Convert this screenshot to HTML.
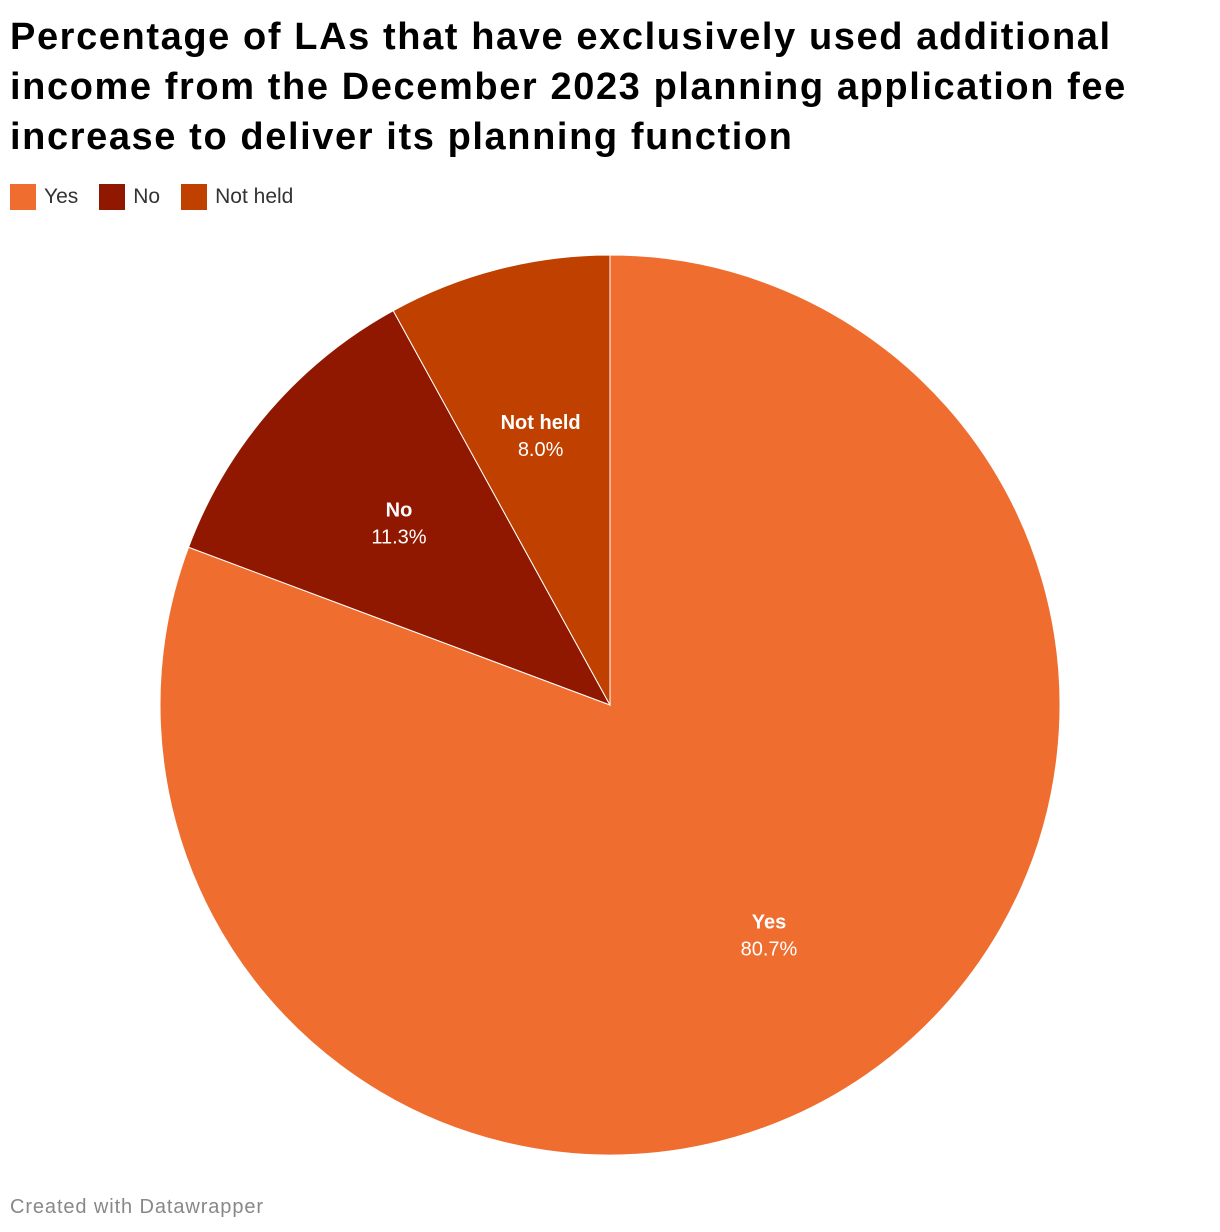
<!DOCTYPE html>
<html><head><meta charset="utf-8"><style>
body{margin:0;background:#fff;width:1220px;height:1232px;overflow:hidden;font-family:"Liberation Sans",sans-serif}
h1{position:absolute;left:10px;top:12px;margin:0;font-size:38px;line-height:50px;font-weight:bold;color:#000;letter-spacing:1.6px;width:1210px;white-space:nowrap}
.legend{position:absolute;left:10px;top:184px;display:flex;font-size:21px;color:#333}
.li{display:flex;align-items:center;margin-right:21px}
.sw{width:26px;height:26px;margin-right:8px}
.foot{position:absolute;left:10px;top:1196px;font-size:20px;color:#888;letter-spacing:0.9px}
</style></head><body>
<h1>Percentage of LAs that have exclusively used additional<br>income from the December 2023 planning application fee<br>increase to deliver its planning function</h1>
<div class="legend">
<div class="li"><div class="sw" style="background:#ef6d2f"></div>Yes</div>
<div class="li"><div class="sw" style="background:#911800"></div>No</div>
<div class="li"><div class="sw" style="background:#c04000"></div>Not held</div>
</div>
<svg id="pie" width="1220" height="1232" style="position:absolute;left:0;top:0"></svg>
<div class="foot">Created with Datawrapper</div>
<script>
const categories=["Yes","No","Not held"];
const values=[80.7,11.3,8.0];
const colors=["#ef6d2f","#911800","#c04000"];
const svg=document.getElementById('pie');
const cx=610,cy=705,R=450,NS="http://www.w3.org/2000/svg";
const total=values.reduce((a,b)=>a+b,0);
let a0=0;
const pt=(a,r)=>[cx+r*Math.sin(a),cy-r*Math.cos(a)];
values.forEach((v,i)=>{
 const a1=a0+v/total*2*Math.PI;
 const [x0,y0]=pt(a0,R),[x1,y1]=pt(a1,R);
 const p=document.createElementNS(NS,'path');
 p.setAttribute('d',`M${cx},${cy}L${x0},${y0}A${R},${R} 0 ${a1-a0>Math.PI?1:0} 1 ${x1},${y1}Z`);
 p.setAttribute('fill',colors[i]);p.setAttribute('stroke','#fff');p.setAttribute('stroke-width','1');
 
 
 svg.appendChild(p);
 const [lx,ly]=pt((a0+a1)/2,R*0.62);
 const t=document.createElementNS(NS,'text');
 t.setAttribute('x',lx);t.setAttribute('y',ly-6);t.setAttribute('text-anchor','middle');
 t.setAttribute('fill','#fff');t.setAttribute('font-size','20');t.setAttribute('font-weight','bold');
 t.setAttribute('font-family','Liberation Sans, sans-serif');t.textContent=categories[i];
 
 
 svg.appendChild(t);
 const t2=document.createElementNS(NS,'text');
 t2.setAttribute('x',lx);t2.setAttribute('y',ly+21);t2.setAttribute('text-anchor','middle');
 t2.setAttribute('fill','#fff');t2.setAttribute('font-size','20');
 t2.setAttribute('font-family','Liberation Sans, sans-serif');t2.textContent=v.toFixed(1)+'%';
 
 
 svg.appendChild(t2);
 a0=a1;
});
</script>
</body></html>
